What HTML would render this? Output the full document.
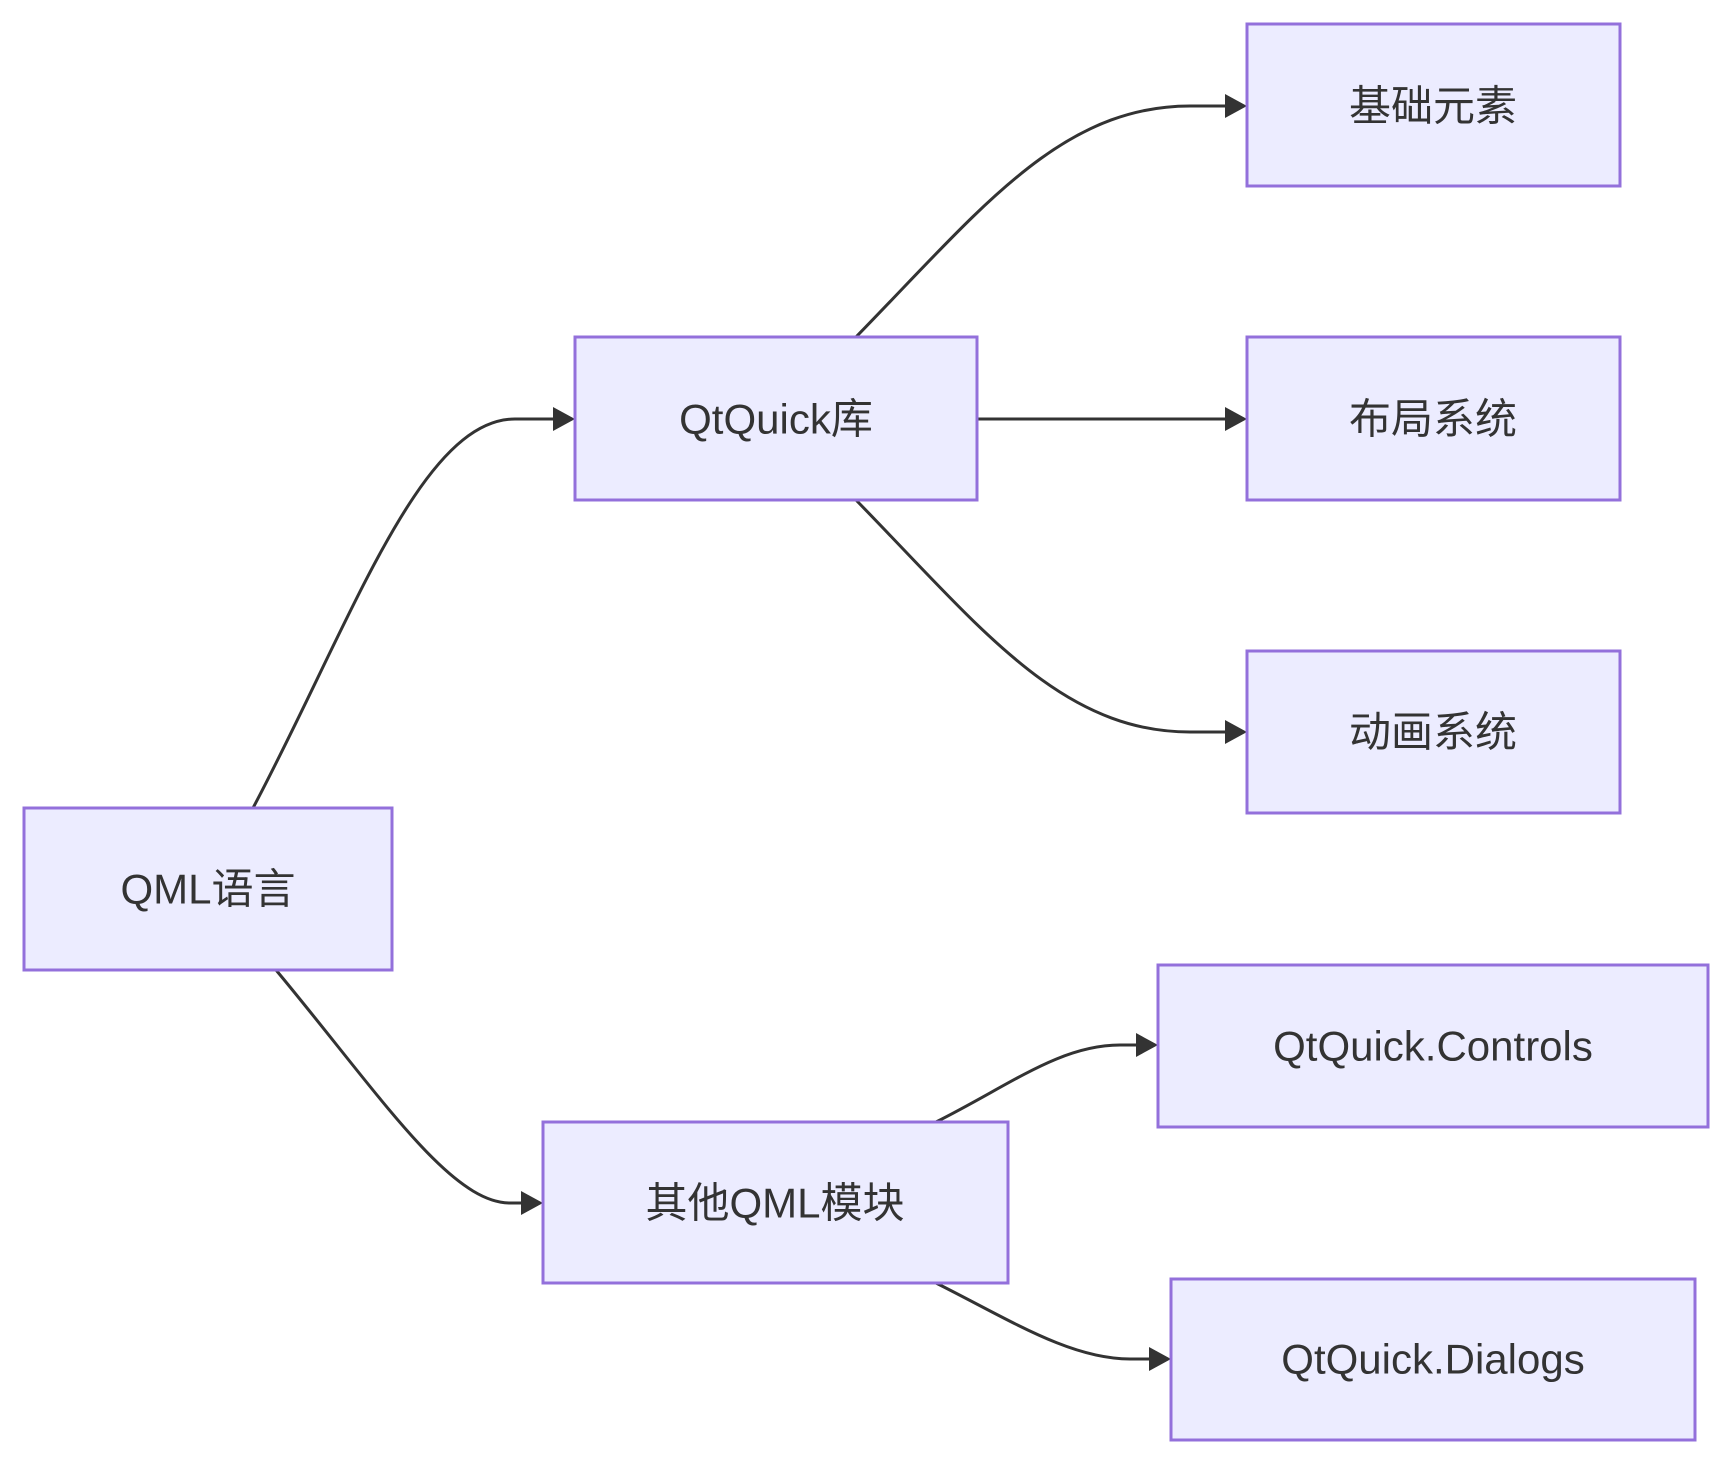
<!DOCTYPE html>
<html><head><meta charset="utf-8"><style>
html,body{margin:0;padding:0;background:#fff;}
svg{display:block;}
text{font-family:"Liberation Sans","Noto Sans CJK SC",sans-serif;font-size:42px;fill:#333;text-anchor:middle;dominant-baseline:central;}
rect{fill:#ECECFF;stroke:#9370DB;stroke-width:3;}
path.e{fill:none;stroke:#333;stroke-width:3;}
</style></head><body>
<svg width="1724" height="1458" viewBox="0 0 1724 1458" xmlns="http://www.w3.org/2000/svg">
<defs><marker id="a" viewBox="0 0 10 10" refX="10" refY="5" markerWidth="8" markerHeight="8" markerUnits="userSpaceOnUse" orient="auto"><path d="M0,0L10,5L0,10z" fill="#333"/></marker></defs>
<g>
<path class="e" d="M253,808 C350,625 420,419 515,419 L553,419"/>
<path d="M553,407 L575,419 L553,431z" fill="#333"/>
<path class="e" d="M276,970 C380,1095 450,1203 510,1203 L521,1203"/>
<path d="M521,1191 L543,1203 L521,1215z" fill="#333"/>
<path class="e" d="M856,337 C980,210 1060,106 1190,106 L1225,106"/>
<path d="M1225,94 L1247,106 L1225,118z" fill="#333"/>
<path class="e" d="M977,419 L1225,419"/>
<path d="M1225,407 L1247,419 L1225,431z" fill="#333"/>
<path class="e" d="M856,500 C980,627 1060,732 1190,732 L1225,732"/>
<path d="M1225,720 L1247,732 L1225,744z" fill="#333"/>
<path class="e" d="M936,1122 C1010,1085 1060,1045 1120,1045 L1136,1045"/>
<path d="M1136,1033 L1158,1045 L1136,1057z" fill="#333"/>
<path class="e" d="M936,1283 C1010,1320 1070,1359 1130,1359 L1149,1359"/>
<path d="M1149,1347 L1171,1359 L1149,1371z" fill="#333"/>
</g>
<rect x="24" y="808" width="368" height="162"/><text x="208" y="889">QML语言</text>
<rect x="575" y="337" width="402" height="163"/><text x="776" y="419">QtQuick库</text>
<rect x="543" y="1122" width="465" height="161"/><text x="775" y="1203">其他QML模块</text>
<rect x="1247" y="24" width="373" height="162"/><text x="1433" y="106">基础元素</text>
<rect x="1247" y="337" width="373" height="163"/><text x="1433" y="419">布局系统</text>
<rect x="1247" y="651" width="373" height="162"/><text x="1433" y="732">动画系统</text>
<rect x="1158" y="965" width="550" height="162"/><text x="1433" y="1046">QtQuick.Controls</text>
<rect x="1171" y="1279" width="524" height="161"/><text x="1433" y="1359">QtQuick.Dialogs</text>
</svg>
</body></html>
